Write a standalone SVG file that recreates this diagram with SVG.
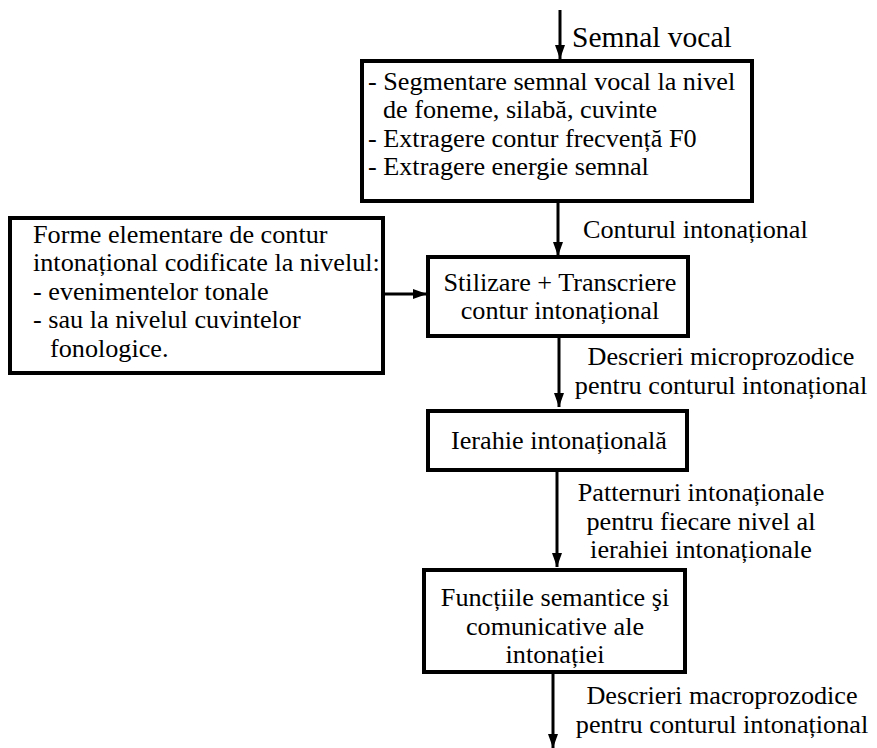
<svg xmlns="http://www.w3.org/2000/svg" width="877" height="748" viewBox="0 0 877 748">
  <style>
    .box { fill: #fff; stroke: #000; stroke-width: 4; }
    .t { font-family: 'Liberation Serif', 'Times New Roman', serif; font-size: 26.2px; fill: #000; }
    .big { font-size: 29.5px; }
    .c { text-anchor: middle; }
    .edge { stroke: #000; stroke-width: 3; fill: none; marker-end: url(#ah); }
  </style>
  <defs>
    <marker id="ah" viewBox="0 0 14 10" refX="14" refY="5" markerUnits="userSpaceOnUse" markerWidth="14" markerHeight="10" orient="auto">
      <path d="M0,0 L14,5 L0,10 Z" fill="#000"/>
    </marker>
  </defs>

  <!-- connectors and their labels -->
  <g id="connectors">
    <line class="edge" x1="560" y1="10" x2="560" y2="59"/>
    <line class="edge" x1="558" y1="201" x2="558" y2="256"/>
    <line class="edge" x1="383" y1="294" x2="427" y2="294"/>
    <line class="edge" x1="559" y1="336" x2="559" y2="407"/>
    <line class="edge" x1="557" y1="470" x2="557" y2="567"/>
    <line class="edge" x1="553" y1="672" x2="553" y2="748"/>
    <text class="t big" x="572" y="47">Semnal vocal</text>
    <text class="t" x="583" y="238">Conturul intonațional</text>
    <text class="t c" x="721" y="365">Descrieri microprozodice</text>
    <text class="t c" x="721" y="394">pentru conturul intonațional</text>
    <text class="t c" x="701" y="501">Patternuri intonaționale</text>
    <text class="t c" x="701" y="530">pentru fiecare nivel al</text>
    <text class="t c" x="701" y="558">ierahiei intonaționale</text>
    <text class="t c" x="722" y="704">Descrieri macroprozodice</text>
    <text class="t c" x="722" y="733">pentru conturul intonațional</text>
  </g>

  <!-- signal processing -->
  <g id="segmentare">
    <rect class="box" x="362" y="61" width="390" height="140"/>
    <text class="t" x="368" y="90">- Segmentare semnal vocal la nivel</text>
    <text class="t" x="383" y="118">de foneme, silabă, cuvinte</text>
    <text class="t" x="368" y="147">- Extragere contur frecvență F0</text>
    <text class="t" x="368" y="175">- Extragere energie semnal</text>
  </g>

  <!-- elementary contour forms -->
  <g id="forme">
    <rect class="box" x="10" y="218" width="373" height="155"/>
    <text class="t" x="33" y="243">Forme elementare de contur</text>
    <text class="t" x="33" y="271">intonațional codificate la nivelul:</text>
    <text class="t" x="33" y="300">-  evenimentelor tonale</text>
    <text class="t" x="33" y="328">-  sau la nivelul cuvintelor</text>
    <text class="t" x="50" y="357">fonologice.</text>
  </g>

  <!-- stylization -->
  <g id="stilizare">
    <rect class="box" x="428" y="257" width="260" height="79"/>
    <text class="t c" x="560" y="291">Stilizare + Transcriere</text>
    <text class="t c" x="560" y="319">contur intonațional</text>
  </g>

  <!-- hierarchy -->
  <g id="ierahie">
    <rect class="box" x="428" y="411" width="259" height="59"/>
    <text class="t c" x="559" y="449">Ierahie intonațională</text>
  </g>

  <!-- functions -->
  <g id="functii">
    <rect class="box" x="424" y="570" width="261" height="102"/>
    <text class="t c" x="555" y="606">Funcțiile semantice şi</text>
    <text class="t c" x="555" y="635">comunicative ale</text>
    <text class="t c" x="555" y="663">intonației</text>
  </g>
</svg>
